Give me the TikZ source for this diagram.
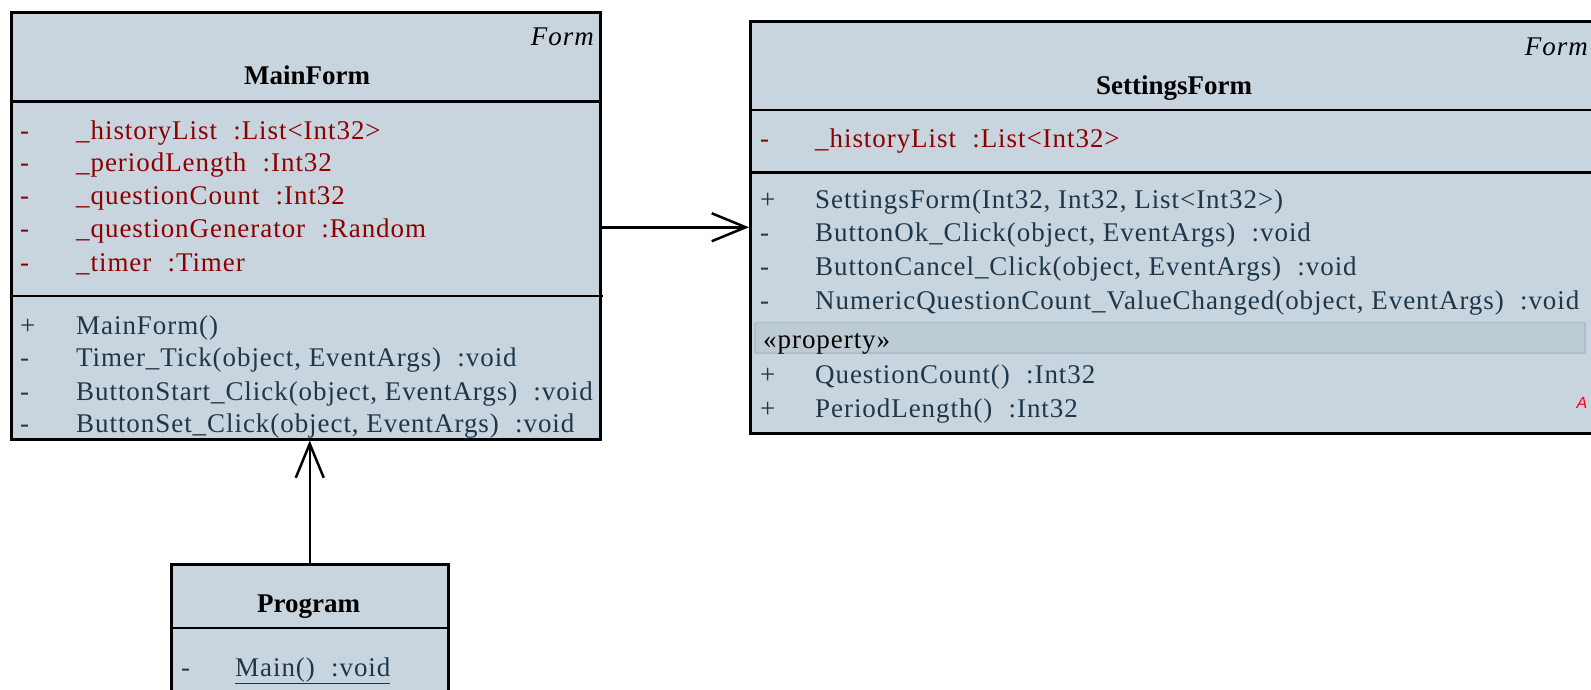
\documentclass[tikz,border=0pt]{standalone}
\usepackage{fontspec}
\setmainfont{Liberation Serif}[LetterSpace=3.5]
\newfontfamily\markfont{Liberation Sans}
\usetikzlibrary{positioning,arrows.meta}

\definecolor{classfill}{RGB}{200,213,222}
\definecolor{fieldcol}{RGB}{140,0,0}
\definecolor{membercol}{RGB}{30,55,75}
\definecolor{bandfill}{RGB}{189,203,213}
\definecolor{bandline}{RGB}{174,191,203}

\tikzstyle{signal}=[arrows={-{Straight Barb[length=34pt,width=28pt,line width=2.5pt]}},draw=black,line width=2.5pt]
\tikzstyle{block}=[draw=black,line width=2.5pt]
\tikzstyle{classbox}=[style=block, fill=classfill, inner sep=0pt, anchor=north west]
\tikzstyle{member}=[anchor=base west, inner sep=0pt, text=membercol,
    font=\fontsize{27}{30}\selectfont]
\tikzstyle{field}=[style=member, text=fieldcol]
\tikzstyle{title}=[anchor=base, inner sep=0pt,
    font=\fontsize{27}{30}\selectfont\addfontfeature{LetterSpace=0}\bfseries]
\tikzstyle{parent}=[anchor=base east, inner sep=0pt,
    font=\fontsize{27}{30}\selectfont\itshape]
\def\gap{\hspace{0.6em}}

\begin{document}
\begin{tikzpicture}[x=1pt, y=-1pt]
    \clip (0,0) rectangle (1591,689);
    \useasboundingbox (0,0) rectangle (1591,689);

    % MainForm
    \node[classbox, minimum width=589pt, minimum height=427pt] (mainform) at (10,11) {};
    \draw[block] (10,101.5) -- (599,101.5);
    \draw[block] (10,296) -- (603,296);
    \node[parent] (mainparent) at (594,45) {Form};
    \node[title] (maintitle) at (307,84) {MainForm};
    \node[field] (mf1) at (20,139) {-};
    \node[field] (mf1n) at (76,139) {\_historyList\gap:List<Int32>};
    \node[field] (mf2) at (20,171.5) {-};
    \node[field] (mf2n) at (76,171.5) {\_periodLength\gap:Int32};
    \node[field] (mf3) at (20,204) {-};
    \node[field] (mf3n) at (76,204) {\_questionCount\gap:Int32};
    \node[field] (mf4) at (20,237) {-};
    \node[field] (mf4n) at (76,237) {\_questionGenerator\gap:Random};
    \node[field] (mf5) at (20,271) {-};
    \node[field] (mf5n) at (76,271) {\_timer\gap:Timer};
    \node[member] (mm1) at (20,334) {+};
    \node[member] (mm1n) at (76,334) {MainForm()};
    \node[member] (mm2) at (20,366) {-};
    \node[member] (mm2n) at (76,366) {Timer\_Tick(object, EventArgs)\gap:void};
    \node[member] (mm3) at (20,400) {-};
    \node[member] (mm3n) at (76,400) {ButtonStart\_Click(object, EventArgs)\gap:void};
    \node[member] (mm4) at (20,432) {-};
    \node[member] (mm4n) at (76,432) {ButtonSet\_Click(object, EventArgs)\gap:void};

    % SettingsForm
    \node[classbox, minimum width=850pt, minimum height=412pt] (settingsform) at (749,20) {};
    \draw[block] (749,110) -- (1599,110);
    \draw[block] (749,172.5) -- (1599,172.5);
    \node[parent] (setparent) at (1588,55) {Form};
    \node[title] (settitle) at (1174,94) {SettingsForm};
    \node[field] (sf1) at (760,147) {-};
    \node[field] (sf1n) at (815,147) {\_historyList\gap:List<Int32>};
    \node[member] (sm1) at (760,208) {+};
    \node[member] (sm1n) at (815,208) {SettingsForm(Int32, Int32, List<Int32>)};
    \node[member] (sm2) at (760,241) {-};
    \node[member] (sm2n) at (815,241) {ButtonOk\_Click(object, EventArgs)\gap:void};
    \node[member] (sm3) at (760,275) {-};
    \node[member] (sm3n) at (815,275) {ButtonCancel\_Click(object, EventArgs)\gap:void};
    \node[member] (sm4) at (760,309) {-};
    \node[member] (sm4n) at (815,309) {NumericQuestionCount\_ValueChanged(object, EventArgs)\gap:void};
    \draw[fill=bandfill, draw=bandline, line width=1.5pt] (755,322.5) rectangle (1585,353);
    \node[member, text=black] (stereo) at (763,348) {«property»};
    \node[member] (sp1) at (760,383) {+};
    \node[member] (sp1n) at (815,383) {QuestionCount()\gap:Int32};
    \node[member] (sp2) at (760,417) {+};
    \node[member] (sp2n) at (815,417) {PeriodLength()\gap:Int32};
    \node[inner sep=0pt, text=red, font=\markfont\itshape\fontsize{16}{16}\selectfont] (abstractmark) at (1582,403) {A};

    % Program
    \node[classbox, minimum width=277pt, minimum height=140pt] (program) at (170,563) {};
    \draw[block] (170,628) -- (447,628);
    \node[title] (progtitle) at (308.5,612) {Program};
    \node[member] (pm1) at (181,676) {-};
    \node[member] (pm1n) at (235,676) {\underline{Main()\gap:void}};

    % associations
    \draw[signal] (mainform.east |- settingsform.west) -- (settingsform.west);
    \draw[signal] (program.north) -- (program.north |- mainform.south);
\end{tikzpicture}
\end{document}
